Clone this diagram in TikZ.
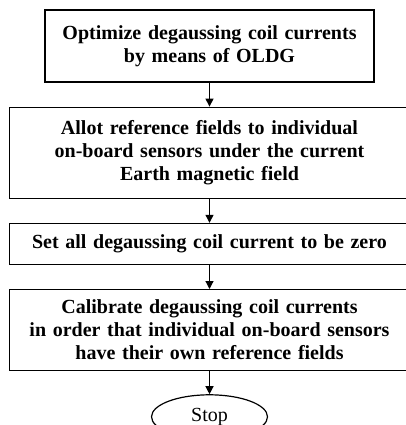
\documentclass[tikz,border=0pt]{standalone}
\usepackage{fontspec}
\setmainfont{Liberation Serif}
\usetikzlibrary{shapes.geometric, arrows.meta, positioning}

\begin{document}
\begin{tikzpicture}[
    x=1pt, y=-1pt,
    node distance=24pt,
    stepbox/.style={rectangle, minimum width=400pt, text width=396pt, inner sep=0pt, align=center, draw=black, line width=1.2pt, font=\fontsize{20}{23}\selectfont\bfseries},
    stopnode/.style={ellipse, minimum width=116pt, minimum height=44pt, inner sep=0pt, draw=black, line width=1.2pt, font=\fontsize{20}{22}\selectfont},
    arrow/.style={line width=1.2pt, -{Triangle[length=8pt,width=8pt]}}
]
\useasboundingbox (0,0) rectangle (405,425);

\node (optimize) [stepbox, minimum width=329pt, text width=325pt, minimum height=72pt] at (209.5,46) {Optimize degaussing coil currents\\by means of OLDG};
\node (allot) [stepbox, minimum height=91pt, below=of optimize] {Allot reference fields to individual\\on-board sensors under the current\\Earth magnetic field};
\node (zero) [stepbox, minimum height=41pt, below=of allot] {Set all degaussing coil current to be zero};
\node (calibrate) [stepbox, minimum height=81pt, below=of zero] {Calibrate degaussing coil currents\\in order that individual on-board sensors\\have their own reference fields};
\node (stop) [stopnode, below=23pt of calibrate] {Stop};

\draw [arrow] (optimize) -- (allot);
\draw [arrow] (allot) -- (zero);
\draw [arrow] (zero) -- (calibrate);
\draw [arrow] (calibrate) -- (stop);

\end{tikzpicture}
\end{document}
